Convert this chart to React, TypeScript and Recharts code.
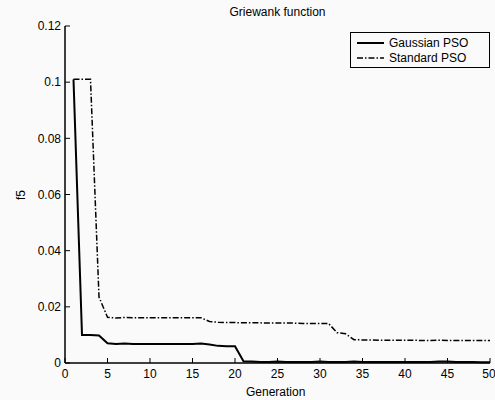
import React from 'react';
import { LineChart, Line, XAxis, YAxis } from 'recharts';

// Generation index and best fitness per run
const generations = [
  1, 2, 3, 4, 5, 6, 7, 8, 9, 10,
  11, 12, 13, 14, 15, 16, 17, 18, 19, 20,
  21, 22, 23, 24, 25, 26, 27, 28, 29, 30,
  31, 32, 33, 34, 35, 36, 37, 38, 39, 40,
  41, 42, 43, 44, 45, 46, 47, 48, 49, 50,
];

const gaussianPso = [
  0.101, 0.0100, 0.0100, 0.0098, 0.0070, 0.0068, 0.0069, 0.0068, 0.0068, 0.0068,
  0.0068, 0.0068, 0.0068, 0.0068, 0.0068, 0.0069, 0.0066, 0.0061, 0.0060, 0.0060,
  0.0006, 0.0005, 0.0004, 0.0004, 0.0005, 0.0004, 0.0004, 0.0004, 0.0004, 0.0005,
  0.0004, 0.0004, 0.0004, 0.0005, 0.0004, 0.0004, 0.0004, 0.0004, 0.0004, 0.0004,
  0.0004, 0.0004, 0.0004, 0.0005, 0.0005, 0.0004, 0.0004, 0.0004, 0.0003, 0.0003,
];

const standardPso = [
  0.101, 0.101, 0.101, 0.0235, 0.0163, 0.0160, 0.0162, 0.0161, 0.0161, 0.0161,
  0.0161, 0.0161, 0.0161, 0.0161, 0.0161, 0.0161, 0.0148, 0.0145, 0.0144, 0.0144,
  0.0143, 0.0143, 0.0143, 0.0142, 0.0142, 0.0142, 0.0142, 0.0141, 0.0141, 0.0141,
  0.0141, 0.0108, 0.0104, 0.0083, 0.0082, 0.0082, 0.0081, 0.0081, 0.0081, 0.0081,
  0.0081, 0.0080, 0.0080, 0.0081, 0.0080, 0.0080, 0.0080, 0.0080, 0.0080, 0.0080,
];

const xTicks = [0, 5, 10, 15, 20, 25, 30, 35, 40, 45, 50];
const yTicks = [0, 0.02, 0.04, 0.06, 0.08, 0.1, 0.12];
const yTickLabels = ['0', '0.02', '0.04', '0.06', '0.08', '0.1', '0.12'];

const FONT = '"Liberation Sans", Arial, sans-serif';
const tickStyle = { fill: '#000', fontSize: 12, fontFamily: FONT };
const axisLine = { stroke: '#000', strokeWidth: 1.5 };
const tickLine = { stroke: '#000', strokeWidth: 1 };
const blank = () => '';

export default function App() {
  const data = generations.map((g, i) => ({
    gen: g,
    gaussian: gaussianPso[i],
    standard: standardPso[i],
  }));

  return (
    <div style={{ position: 'absolute', left: 0, top: 0, width: 495, height: 400, background: '#fafafa', fontFamily: FONT }}>
      <LineChart width={495} height={400} data={data} margin={{ top: 26, right: 5, bottom: 0, left: 0 }}>
        <XAxis
          dataKey="gen" type="number" domain={[0, 50]} ticks={xTicks}
          height={37} tickSize={-5} tickMargin={11} stroke="#000"
          axisLine={axisLine} tickLine={tickLine} tick={tickStyle}
        />
        <XAxis
          xAxisId="top" orientation="top" type="number" domain={[0, 50]} ticks={xTicks}
          height={0} tickSize={-5} tickFormatter={blank} stroke="#000"
          axisLine={axisLine} tickLine={tickLine}
        />
        <YAxis
          type="number" domain={[0, 0.12]} ticks={yTicks}
          width={65} tickSize={-5} tickMargin={9} stroke="#000"
          axisLine={axisLine} tickLine={tickLine} tick={tickStyle}
          tickFormatter={(v: number) => yTickLabels[yTicks.indexOf(v)] ?? String(v)}
        />
        <YAxis
          yAxisId="right" orientation="right" type="number" domain={[0, 0.12]} ticks={yTicks}
          width={0} tickSize={-5} tickFormatter={blank} stroke="#000"
          axisLine={axisLine} tickLine={tickLine}
        />
        <Line
          type="linear" dataKey="gaussian" stroke="#000" strokeWidth={2}
          dot={false} isAnimationActive={false}
        />
        <Line
          type="linear" dataKey="standard" stroke="#000" strokeWidth={1.5}
          strokeDasharray="6 2 1.5 2" dot={false} isAnimationActive={false}
        />
      </LineChart>

      {/* title */}
      <div style={{ position: 'absolute', left: 65, width: 425, top: 5, textAlign: 'center', fontSize: 12, lineHeight: '14px', color: '#000' }}>
        Griewank function
      </div>

      {/* axis labels */}
      <div style={{ position: 'absolute', left: 246, top: 385, fontSize: 12, lineHeight: '14px', color: '#000' }}>
        Generation
      </div>
      <div style={{ position: 'absolute', left: 13, top: 188, width: 16, height: 14, fontSize: 12, lineHeight: '14px', color: '#000', transform: 'rotate(-90deg)', textAlign: 'center' }}>
        f5
      </div>

      {/* legend */}
      <div style={{ position: 'absolute', left: 350, top: 32, width: 140, height: 36, border: '1px solid #000', boxSizing: 'border-box', background: '#fafafa' }}>
        <svg width={40} height={34} style={{ position: 'absolute', left: 0, top: 0 }}>
          <line x1={6} x2={33} y1={10} y2={10} stroke="#000" strokeWidth={2} />
          <line x1={6} x2={33} y1={25} y2={25} stroke="#000" strokeWidth={1.5} strokeDasharray="6 2 1.5 2" />
        </svg>
        <div style={{ position: 'absolute', left: 38, top: 3, fontSize: 12, lineHeight: '14px', color: '#000' }}>Gaussian PSO</div>
        <div style={{ position: 'absolute', left: 38, top: 18, fontSize: 12, lineHeight: '14px', color: '#000' }}>Standard PSO</div>
      </div>
    </div>
  );
}
